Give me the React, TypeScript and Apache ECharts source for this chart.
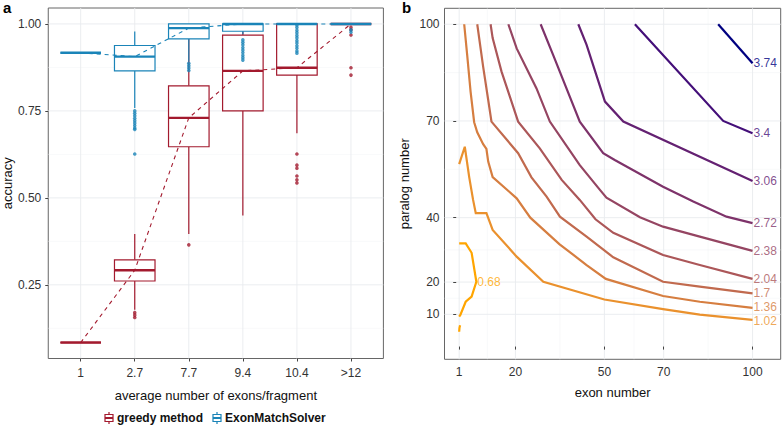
import React, { useEffect, useRef } from 'react';
import * as echarts from 'echarts';

// ---------- Panel a data ----------
const categories = ['1', '2.7', '7.7', '9.4', '10.4', '>12'];
// [min, q1, median, q3, max]
const greedyStats = [
  [0.084, 0.084, 0.084, 0.084, 0.084],
  [0.178, 0.261, 0.292, 0.322, 0.396],
  [0.396, 0.647, 0.730, 0.822, 1.0],
  [0.449, 0.750, 0.865, 0.968, 1.0],
  [0.686, 0.853, 0.874, 1.0, 1.0],
  [1.0, 1.0, 1.0, 1.0, 1.0],
];
const emsStats = [
  [0.917, 0.917, 0.917, 0.917, 0.917],
  [0.758, 0.865, 0.906, 0.938, 0.978],
  [0.892, 0.957, 0.988, 1.0, 1.0],
  [0.970, 0.979, 1.0, 1.0, 1.0],
  [1.0, 1.0, 1.0, 1.0, 1.0],
  [1.0, 1.0, 1.0, 1.0, 1.0],
];
// [category position (1-based), value]
const greedyOutliers = [
  [2, 0.170], [2, 0.163], [2, 0.156],
  [3, 0.365],
  [5, 0.626], [5, 0.594], [5, 0.585], [5, 0.563], [5, 0.552], [5, 0.543],
  [6, 0.990], [6, 0.983], [6, 0.968], [6, 0.874], [6, 0.853],
];
const emsOutliers = [
  [2, 0.750], [2, 0.743], [2, 0.736], [2, 0.729], [2, 0.722], [2, 0.715], [2, 0.708], [2, 0.701], [2, 0.697], [2, 0.626],
  [3, 0.887], [3, 0.880], [3, 0.873], [3, 0.866],
  [4, 0.954], [4, 0.947], [4, 0.940], [4, 0.932], [4, 0.925], [4, 0.918], [4, 0.910], [4, 0.903], [4, 0.896],
  [5, 0.997], [5, 0.990], [5, 0.982], [5, 0.975], [5, 0.967], [5, 0.960], [5, 0.952], [5, 0.945], [5, 0.937], [5, 0.930], [5, 0.922], [5, 0.916],
  [6, 0.983], [6, 0.976],
];
const accuracyTicks = [0.25, 0.5, 0.75, 1.0];
const accuracyMinor = [0.125, 0.375, 0.625, 0.875];
const categoryTicks = [1, 2, 3, 4, 5, 6];

// ---------- Panel b data ----------
const exonTicks = [1, 20, 50, 70, 100];
const exonMinor = [10.5, 35, 60, 85];
const paralogTicks = [10, 20, 40, 70, 100];
const paralogMinor = [15, 30, 55, 85];
const levels = ['0.68', '1.02', '1.36', '1.7', '2.04', '2.38', '2.72', '3.06', '3.4', '3.74'];
const contour068 = [[1, 32], [3.2, 32], [5.2, 29.1], [6.8, 20.1], [5.2, 15.5], [3.2, 13.9], [1.4, 9.8], [1, 9.3]];
const contour068b = [[1.3, 6.6], [1.1, 5.8], [1.0, 4.6]];
const contour102 = [[1, 56.6], [2.9, 62], [4.4, 52.5], [5.7, 45.5], [6.6, 41.4], [10.2, 41.4], [12.3, 36.2], [20.4, 27.9], [29.4, 20.1], [50, 14.6], [69.8, 11.6], [82.2, 9.9], [100, 8.3]];
const contour136 = [[2.7, 100], [3.7, 90.5], [4.85, 79.1], [6.06, 69.6], [7.1, 66.5], [9.1, 62.8], [10.2, 61.3], [10.8, 57.4], [12.3, 52.6], [20.4, 46], [25, 40], [34.8, 31.8], [44, 25.3], [50.5, 21], [69.8, 15.7], [82.2, 13.9], [100, 12.0]];
const contour170 = [[7.1, 100], [9.1, 86.8], [10.8, 76.5], [11.9, 69.8], [20.9, 60], [25.4, 52.5], [30.5, 46.5], [35, 40.3], [44, 34.1], [53, 27.7], [69.8, 20.1], [82.2, 18.6], [100, 16.5]];
const contour204 = [[11.6, 100], [12.3, 95.7], [15.3, 85.3], [20.9, 69.8], [28.2, 61.5], [35.6, 51.7], [41.7, 45.5], [47, 39.5], [53, 35.3], [69.8, 28.4], [82.2, 25.3], [100, 21]];
const contour238 = [[17.6, 100], [20.4, 92.5], [27.1, 80.1], [31.6, 69.8], [41.7, 56.3], [48.5, 48.6], [50.7, 46.2], [62, 40.1], [69.8, 37.2], [82.2, 34.1], [100, 29.7]];
const contour272 = [[28.5, 100], [32.7, 90.5], [41.7, 69.8], [49.6, 60], [53.5, 57.9], [69.8, 49.6], [80, 45], [91.2, 40.3], [100, 38.3]];
const contour306 = [[41.2, 100], [44, 93.6], [50.2, 76], [56.4, 69.8], [100, 51.4]];
const contour340 = [[60.3, 100], [90.1, 70], [100, 66.2]];
const contour374 = [[88.4, 100], [100, 87.9]];
const contours = [contour068, contour102, contour136, contour170, contour204, contour238, contour272, contour306, contour340, contour374];

// ---------- styling helpers ----------
const FONT = 'Liberation Sans, Arial, Helvetica, sans-serif';
const RED = '#A31A2E';
const BLUE = '#1A84B8';
const GRID_MAJOR = '#e9ebee';
const GRID_MINOR = '#f1f2f4';
// small vertical nudges so neighbouring end labels do not collide
const labelNudge: Record<string, number> = { '1.02': 1.5, '1.36': -0.8 };

function labToHex(L: number, a: number, b: number) {
  const fy = (L + 16) / 116, fx = fy + a / 500, fz = fy - b / 200;
  const finv = (t: number) => (t * t * t > 0.008856 ? t * t * t : (t - 16 / 116) / 7.787);
  const X = 0.95047 * finv(fx), Y = finv(fy), Z = 1.08883 * finv(fz);
  const lin = [
    3.2406 * X - 1.5372 * Y - 0.4986 * Z,
    -0.9689 * X + 1.8758 * Y + 0.0415 * Z,
    0.0557 * X - 0.204 * Y + 1.057 * Z,
  ];
  return '#' + lin.map((c) => {
    const v = c <= 0.0031308 ? 12.92 * c : 1.055 * Math.pow(c, 1 / 2.4) - 0.055;
    const n = Math.max(0, Math.min(255, Math.round(v * 255)));
    return n.toString(16).padStart(2, '0');
  }).join('');
}
const LOW_LAB = [74.93, 23.94, 78.96]; // orange
const HIGH_LAB = [12.98, 47.51, -64.7]; // navy
function levelColor(t: number) {
  return labToHex(
    LOW_LAB[0] + (HIGH_LAB[0] - LOW_LAB[0]) * t,
    LOW_LAB[1] + (HIGH_LAB[1] - LOW_LAB[1]) * t,
    LOW_LAB[2] + (HIGH_LAB[2] - LOW_LAB[2]) * t,
  );
}

function gridLineSeries(xIdx: number, vMajor: number[], vMinor: number[], hMajor: number[], hMinor: number[]) {
  const data: number[][] = [];
  vMinor.forEach((v) => data.push([v, 0, 1]));
  hMinor.forEach((v) => data.push([v, 1, 1]));
  vMajor.forEach((v) => data.push([v, 0, 0]));
  hMajor.forEach((v) => data.push([v, 1, 0]));
  return {
    type: 'custom',
    xAxisIndex: xIdx,
    yAxisIndex: xIdx,
    silent: true,
    z: 0,
    data,
    encode: { x: -1, y: -1 },
    renderItem: (params: any, api: any) => {
      const v = api.value(0), orient = api.value(1), minor = api.value(2);
      const cs = params.coordSys;
      const style = { stroke: minor ? GRID_MINOR : GRID_MAJOR, lineWidth: minor ? 0.5 : 0.9 };
      if (orient === 0) {
        const x = api.coord([v, 0])[0];
        return { type: 'line', shape: { x1: x, y1: cs.y, x2: x, y2: cs.y + cs.height }, style };
      }
      const y = api.coord([0, v])[1];
      return { type: 'line', shape: { x1: cs.x, y1: y, x2: cs.x + cs.width, y2: y }, style };
    },
  };
}

function boxSeries(stats: number[][], color: string) {
  return {
    type: 'custom',
    xAxisIndex: 0,
    yAxisIndex: 0,
    silent: true,
    z: 2,
    data: stats.map((s, i) => [i + 1, ...s]),
    encode: { x: 0, y: [1, 2, 3, 4, 5] },
    renderItem: (_params: any, api: any) => {
      const c = api.value(0);
      const mn = api.value(1), q1 = api.value(2), md = api.value(3), q3 = api.value(4), mx = api.value(5);
      const tl = api.coord([c - 0.375, q3]);
      const br = api.coord([c + 0.375, q1]);
      const pMax = api.coord([c, mx]);
      const pMin = api.coord([c, mn]);
      const pQ3 = api.coord([c, q3]);
      const pQ1 = api.coord([c, q1]);
      const pMd = api.coord([c, md]);
      return {
        type: 'group',
        children: [
          { type: 'line', shape: { x1: pMax[0], y1: pMax[1], x2: pQ3[0], y2: pQ3[1] }, style: { stroke: color, lineWidth: 1.2 } },
          { type: 'line', shape: { x1: pMin[0], y1: pMin[1], x2: pQ1[0], y2: pQ1[1] }, style: { stroke: color, lineWidth: 1.2 } },
          { type: 'rect', shape: { x: tl[0], y: tl[1], width: br[0] - tl[0], height: br[1] - tl[1] }, style: { fill: '#ffffff', stroke: color, lineWidth: 1.2 } },
          { type: 'line', shape: { x1: tl[0], y1: pMd[1], x2: br[0], y2: pMd[1] }, style: { stroke: color, lineWidth: 2.4 } },
        ],
      };
    },
  };
}

function legendGlyph(x: number, y: number, color: string) {
  return {
    type: 'group',
    x,
    y,
    children: [
      { type: 'line', shape: { x1: 4, y1: -6, x2: 4, y2: 6 }, style: { stroke: color, lineWidth: 1.2 } },
      { type: 'rect', shape: { x: 0, y: -3.5, width: 8, height: 7 }, style: { fill: '#fff', stroke: color, lineWidth: 1.2 } },
      { type: 'line', shape: { x1: 0, y1: 0, x2: 8, y2: 0 }, style: { stroke: color, lineWidth: 2 } },
    ],
  };
}

export default function App() {
  const ref = useRef<HTMLDivElement>(null);
  useEffect(() => {
    const chart = echarts.init(ref.current!, null, { renderer: 'svg' });

    const allAcc = [...greedyStats.flat(), ...emsStats.flat(), ...greedyOutliers.map((p) => p[1]), ...emsOutliers.map((p) => p[1])];
    const accMin = Math.min(...allAcc), accMax = Math.max(...allAcc);
    const accPad = (accMax - accMin) * 0.05;

    const axisLabelStyle = { color: '#333', fontSize: 12, fontFamily: FONT };
    const nameStyle = { color: '#111', fontSize: 13, fontFamily: FONT };
    const tickStyle = { show: true, length: 3, lineStyle: { color: '#444', width: 1 } };

    const labelData = contours.map((c, i) => {
      let best = c[0];
      c.forEach((p) => { if (p[0] >= best[0]) best = p; });
      return {
        name: levels[i],
        value: best,
        label: { color: levelColor(i / (levels.length - 1)), offset: [0, labelNudge[levels[i]] || 0] },
      };
    });

    const option: any = {
      animation: false,
      textStyle: { fontFamily: FONT },
      grid: [
        { left: 47.6, top: 8, right: 400.6, bottom: 67.5, show: true, borderColor: '#666', borderWidth: 1, backgroundColor: 'transparent' },
        { left: 444.5, top: 8.3, right: 3.3, bottom: 66.7, show: true, borderColor: '#666', borderWidth: 1, backgroundColor: 'transparent' },
      ],
      xAxis: [
        {
          type: 'value', gridIndex: 0, min: 0.4, max: 6.6,
          axisLine: { show: false },
          axisTick: { ...tickStyle, customValues: categoryTicks },
          axisLabel: { ...axisLabelStyle, margin: 8, customValues: categoryTicks, formatter: (v: number) => categories[Math.round(v) - 1] },
          splitLine: { show: false },
          name: 'average number of exons/fragment', nameLocation: 'middle', nameGap: 30, nameTextStyle: nameStyle,
        },
        {
          type: 'value', gridIndex: 1, min: -3.95, max: 109.5,
          axisLine: { show: false },
          axisTick: { ...tickStyle, customValues: exonTicks },
          axisLabel: { ...axisLabelStyle, margin: 7, customValues: exonTicks },
          splitLine: { show: false },
          name: 'exon number', nameLocation: 'middle', nameGap: 27, nameTextStyle: nameStyle,
        },
      ],
      yAxis: [
        {
          type: 'value', gridIndex: 0, min: accMin - accPad, max: accMax + accPad,
          axisLine: { show: false },
          axisTick: { ...tickStyle, customValues: accuracyTicks },
          axisLabel: { ...axisLabelStyle, margin: 7, customValues: accuracyTicks, formatter: (v: number) => v.toFixed(2) },
          splitLine: { show: false },
          name: 'accuracy', nameLocation: 'middle', nameGap: 33, nameRotate: 90, nameTextStyle: nameStyle,
        },
        {
          type: 'value', gridIndex: 1, min: -3.95, max: 104.95,
          axisLine: { show: false },
          axisTick: { ...tickStyle, customValues: paralogTicks },
          axisLabel: { ...axisLabelStyle, margin: 5, customValues: paralogTicks },
          splitLine: { show: false },
          name: 'paralog number', nameLocation: 'middle', nameGap: 34, nameRotate: 90, nameTextStyle: nameStyle,
        },
      ],
      series: [
        gridLineSeries(0, categoryTicks, [], accuracyTicks, accuracyMinor),
        gridLineSeries(1, exonTicks, exonMinor, paralogTicks, paralogMinor),
        boxSeries(greedyStats, RED),
        boxSeries(emsStats, BLUE),
        {
          type: 'scatter', xAxisIndex: 0, yAxisIndex: 0, silent: true, z: 3,
          symbol: 'circle', symbolSize: 3.6, itemStyle: { color: RED }, data: greedyOutliers,
        },
        {
          type: 'scatter', xAxisIndex: 0, yAxisIndex: 0, silent: true, z: 3,
          symbol: 'circle', symbolSize: 3.6, itemStyle: { color: BLUE }, data: emsOutliers,
        },
        {
          type: 'line', xAxisIndex: 0, yAxisIndex: 0, silent: true, z: 4, symbol: 'none',
          lineStyle: { color: RED, width: 1.1, type: [4, 4] },
          data: greedyStats.map((s, i) => [i + 1, s[2]]),
        },
        {
          type: 'line', xAxisIndex: 0, yAxisIndex: 0, silent: true, z: 4, symbol: 'none',
          lineStyle: { color: BLUE, width: 1.1, type: [4, 4] },
          data: emsStats.map((s, i) => [i + 1, s[2]]),
        },
        ...contours.map((c, i) => ({
          type: 'line', xAxisIndex: 1, yAxisIndex: 1, silent: true, z: 3, symbol: 'none',
          lineStyle: { color: levelColor(i / (levels.length - 1)), width: 2.2, cap: 'butt', join: 'miter' },
          data: c,
        })),
        {
          type: 'line', xAxisIndex: 1, yAxisIndex: 1, silent: true, z: 3, symbol: 'none',
          lineStyle: { color: levelColor(0), width: 2.2 },
          data: contour068b,
        },
        {
          type: 'scatter', xAxisIndex: 1, yAxisIndex: 1, silent: true, z: 5,
          symbolSize: 0,
          label: { show: true, position: 'right', distance: 1, formatter: '{b}', fontSize: 12, lineHeight: 11, fontFamily: FONT },
          data: labelData,
        },
      ],
      graphic: [
        { type: 'text', x: 3, y: 0, style: { text: 'a', fontSize: 15, fontWeight: 'bold', fill: '#000', fontFamily: FONT } },
        { type: 'text', x: 402, y: 0, style: { text: 'b', fontSize: 15, fontWeight: 'bold', fill: '#000', fontFamily: FONT } },
        legendGlyph(105, 418, RED),
        { type: 'text', x: 117, y: 418, style: { text: 'greedy method', fontSize: 12, fontWeight: 'bold', fill: '#111', fontFamily: FONT, verticalAlign: 'middle' } },
        legendGlyph(213, 418, BLUE),
        { type: 'text', x: 225, y: 418, style: { text: 'ExonMatchSolver', fontSize: 12, fontWeight: 'bold', fill: '#111', fontFamily: FONT, verticalAlign: 'middle' } },
      ],
    };
    chart.setOption(option);
    return () => chart.dispose();
  }, []);
  return <div ref={ref} style={{ width: 784, height: 426, position: 'absolute', left: 0, top: 0 }} />;
}
